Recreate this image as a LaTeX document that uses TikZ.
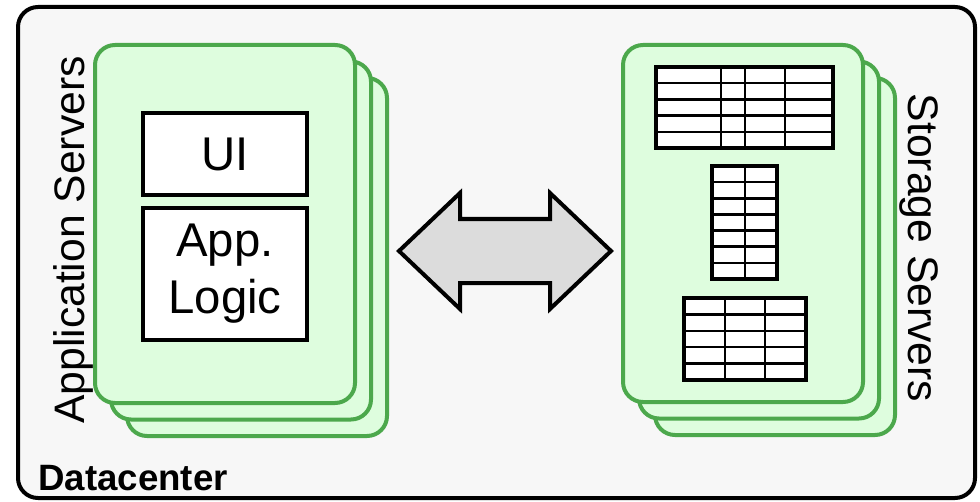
\documentclass[tikz,border=0pt]{standalone}
\usepackage{fontspec}
\setmainfont{Liberation Sans}

\definecolor{bgfill}{RGB}{247,247,247}
\definecolor{cardedge}{RGB}{76,168,76}
\definecolor{cardfill}{RGB}{222,253,222}
\definecolor{arrowfill}{RGB}{220,220,220}

\tikzset{
  card/.style={draw=cardedge, fill=cardfill, line width=3pt, rounded corners=15pt, inner sep=0pt},
  appbox/.style={draw, fill=white, line width=3pt, inner sep=0pt, align=center, font=\fontsize{35.5pt}{42.75pt}\selectfont},
  tableframe/.style={draw, fill=white, line width=2.3pt},
  tableline/.style={line width=1.9pt},
}

\begin{document}
\begin{tikzpicture}[x=0.75pt, y=-0.75pt]
    \def\px{0.75pt} % one pixel of the layout
    \def\stackdx{16} % shift of each card behind
    \def\stackdy{16.5}

    \useasboundingbox (0,0) rectangle (980,502);

    % Datacenter frame
    \node[draw, fill=bgfill, line width=3pt, rounded corners=15pt, minimum width=957*\px, minimum height=491*\px] (dc) at (496.5,252.5) {};
    \node[anchor=base west, inner sep=0pt, font=\fontsize{27.5pt}{32pt}\selectfont\bfseries] (dc-label) at (38,490) {Datacenter};

    % Application servers, back card first
    \foreach \k in {2,1,0} {
        \node[card, minimum width=260*\px, minimum height=358*\px] (app-\k) at ({225+\k*\stackdx},{224+\k*\stackdy}) {};
    }
    \node[appbox, minimum width=164*\px, minimum height=82*\px] (ui) at (225,154) {UI};
    \node[appbox, minimum width=164*\px, minimum height=132*\px] (logic) at (225,274) {App.\\Logic};
    \node[rotate=90, anchor=base, inner sep=0pt, font=\fontsize{32pt}{38pt}\selectfont] (app-label) at (84,240) {Application Servers};

    % Storage servers, back card first
    \foreach \k in {2,1,0} {
        \node[card, minimum width=240*\px, minimum height=357*\px] (store-\k) at ({743+\k*\stackdx},{223.5+\k*\stackdy}) {};
    }
    \node[rotate=-90, anchor=base, inner sep=0pt, font=\fontsize{32pt}{38pt}\selectfont] (store-label) at (908,248) {Storage Servers};

    % Tables: left, right, top, bottom, rows
    \foreach \xa/\xb/\ya/\yb/\nrows in {656/833/67/148/5, 712/777/166/279/7, 684/806/298/380/5} {
        \draw[tableframe] (\xa,\ya) rectangle (\xb,\yb);
        \pgfmathsetmacro{\lastrow}{int(\nrows-1)}
        \foreach \r in {1,...,\lastrow}
            \draw[tableline] (\xa,{\ya+(\yb-\ya)*\r/\nrows}) -- (\xb,{\ya+(\yb-\ya)*\r/\nrows});
    }
    % column rules
    \foreach \x in {721,745,785} \draw[tableline] (\x,67) -- (\x,148);
    \foreach \x in {745} \draw[tableline] (\x,166) -- (\x,279);
    \foreach \x in {725,765} \draw[tableline] (\x,298) -- (\x,380);

    % Double arrow between the stacks
    \draw[line width=3pt, fill=arrowfill, line join=miter]
        (399,251) -- (460,193) -- (460,219) -- (550,219) -- (550,193) -- (611,251)
        -- (550,309) -- (550,283) -- (460,283) -- (460,309) -- cycle;
\end{tikzpicture}
\end{document}
